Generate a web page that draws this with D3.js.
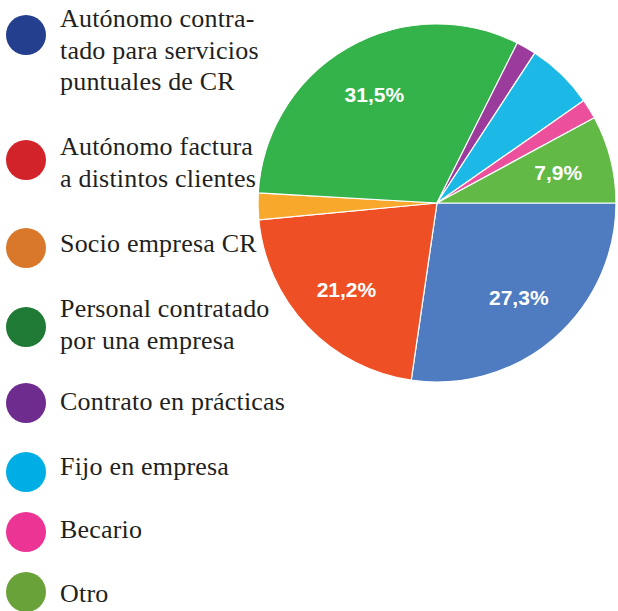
<!DOCTYPE html>
<html>
<head>
<meta charset="utf-8">
<script src="https://cdn.jsdelivr.net/npm/d3@7"></script>
<style>
  html, body { margin: 0; padding: 0; background: #fff; }
  svg { display: block; }
</style>
</head>
<body>
<svg id="chart" width="618" height="611"></svg>
<script>
const categories = [
  "Autónomo contratado para servicios puntuales de CR",
  "Autónomo factura a distintos clientes",
  "Socio empresa CR",
  "Personal contratado por una empresa",
  "Contrato en prácticas",
  "Fijo en empresa",
  "Becario",
  "Otro"
];
const legendLines = [
  ["Autónomo contra-", "tado para servicios", "puntuales de CR"],
  ["Autónomo factura", "a distintos clientes"],
  ["Socio empresa CR"],
  ["Personal contratado", "por una empresa"],
  ["Contrato en prácticas"],
  ["Fijo en empresa"],
  ["Becario"],
  ["Otro"]
];
const values = [27.3, 21.2, 2.4, 31.5, 1.8, 6.1, 1.8, 7.9];
const valueLabels = ["27,3%", "21,2%", "", "31,5%", "", "", "", "7,9%"];
const pieColors = ["#4f7bc1", "#ef4f25", "#f8a82b", "#34b34a", "#9b3c9c", "#1cb9e6", "#ec4f9b", "#63b946"];
const legendColors = ["#253f8f", "#d2232a", "#d9782b", "#1e7a34", "#6e2c8f", "#00aee6", "#ec3494", "#6aa23a"];

const svg = d3.select("#chart");
const cx = 437, cy = 203, R = 179;

const pie = d3.pie().sort(null).value(d => d)
  .startAngle(Math.PI / 2).endAngle(Math.PI / 2 + 2 * Math.PI);
const arcs = pie(values);
const arc = d3.arc().innerRadius(0).outerRadius(R);
const labelArc = d3.arc().innerRadius(125).outerRadius(125);

const g = svg.append("g").attr("transform", `translate(${cx},${cy})`);
g.selectAll("path.slice").data(arcs).enter().append("path")
  .attr("class", "slice")
  .attr("d", arc)
  .attr("fill", (d, i) => pieColors[i])
  .attr("stroke", "#ffffff")
  .attr("stroke-width", 1.2);

g.selectAll("text.val").data(arcs).enter().append("text")
  .attr("class", "val")
  .attr("transform", d => `translate(${labelArc.centroid(d)})`)
  .attr("text-anchor", "middle")
  .attr("dy", "0.36em")
  .attr("fill", "#ffffff")
  .attr("font-family", "'Liberation Sans', Arial, sans-serif")
  .attr("font-weight", "bold")
  .attr("font-size", 21)
  .text((d, i) => valueLabels[i]);

// legend
const circleY = [35, 160, 248, 327, 403, 472, 532, 592];
const firstBaseline = [27, 155, 252, 317, 410, 475, 538, 602];
const lineH = 31.5;

const leg = svg.append("g");
categories.forEach((c, i) => {
  leg.append("circle")
    .attr("cx", 26).attr("cy", circleY[i]).attr("r", 20)
    .attr("fill", legendColors[i]);
  const t = leg.append("text")
    .attr("x", 60).attr("y", firstBaseline[i])
    .attr("fill", "#231f20")
    .attr("font-family", "'Liberation Serif', 'Times New Roman', serif")
    .attr("font-size", 26)
    .attr("letter-spacing", 0.2);
  legendLines[i].forEach((line, j) => {
    t.append("tspan").attr("x", 60).attr("y", firstBaseline[i] + j * lineH).text(line);
  });
});
</script>
</body>
</html>
